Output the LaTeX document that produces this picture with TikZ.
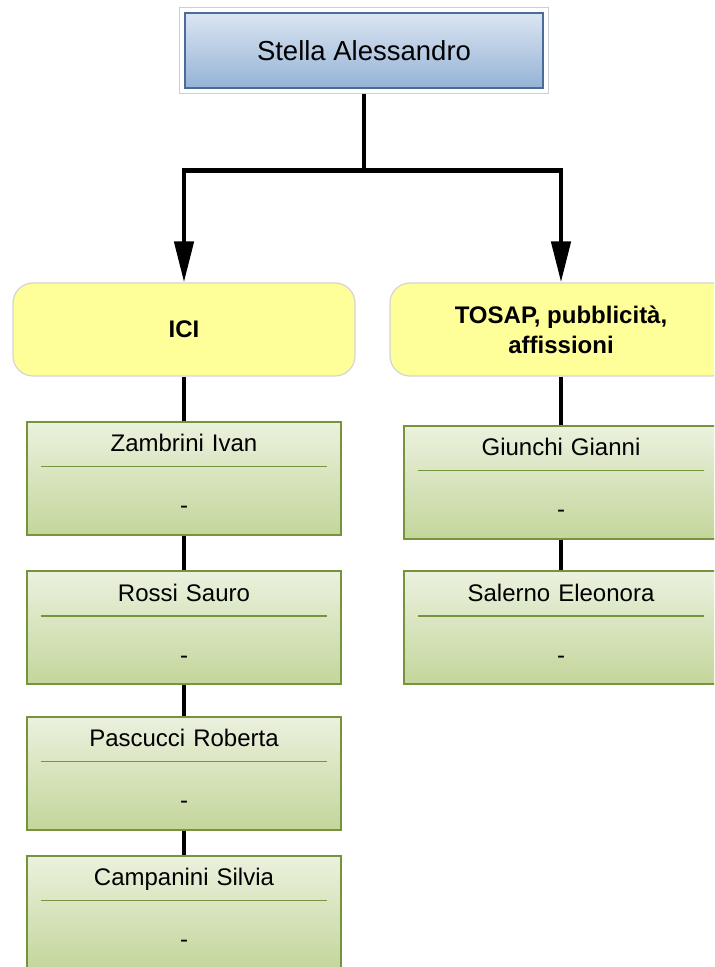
\documentclass[tikz,border=0pt]{standalone}
\usepackage{fontspec}
\setmainfont{Liberation Sans}
\usepackage{tikz}
\usetikzlibrary{arrows.meta,positioning,fit}

\definecolor{bluchiaro}{HTML}{DBE5F1}
\definecolor{blumedio}{HTML}{95B3D7}
\definecolor{blubordo}{HTML}{4A6C9B}
\definecolor{cornicegrigia}{HTML}{C8D0DA}
\definecolor{giallo}{HTML}{FFFF99}
\definecolor{giallobordo}{HTML}{D4D4D4}
\definecolor{verdechiaro}{HTML}{EBF1DE}
\definecolor{verdemedio}{HTML}{C3D69B}
\definecolor{verdebordo}{HTML}{77933C}

\tikzset{
  capo/.style={rectangle, draw=blubordo, line width=0.75pt,
    top color=bluchiaro, bottom color=blumedio,
    minimum width=179pt, minimum height=37.5pt,
    font=\fontsize{13.75}{16}\selectfont},
  cornice/.style={rectangle, draw=cornicegrigia, line width=0.5pt, inner sep=2.2pt},
  ufficio/.style={rectangle, rounded corners=10pt, draw=giallobordo, line width=0.6pt,
    fill=giallo, minimum width=171pt, minimum height=46.5pt, align=center,
    font=\bfseries\fontsize{12}{15}\selectfont},
  persona/.style={rectangle, draw=verdebordo, line width=0.85pt,
    top color=verdechiaro, bottom color=verdemedio,
    text width=150pt, inner xsep=3.5pt, inner ysep=0pt,
    minimum width=157pt, minimum height=56.5pt,
    text height=14.85pt, text depth=41.65pt, align=center,
    font=\fontsize{12}{14}\selectfont,
    path picture={\draw[verdebordo, line width=0.75pt]
      ([xshift=6.85pt,yshift=-22.3pt]path picture bounding box.north west) --
      ([xshift=-6.85pt,yshift=-22.3pt]path picture bounding box.north east);}},
  freccia/.style={line width=2.3pt, -{Triangle[length=20.5pt,width=9.5pt]}},
  linea/.style={line width=2.1pt}
}

\begin{document}
\begin{tikzpicture}[node distance=74.5pt,on grid]
            \clip (0,0) rectangle (357pt,-483.5pt);
            \node[capo]                (capo)     at (182pt,-25.25pt) {Stella Alessandro};
            \node[cornice, fit=(capo)] (cornice)  {};
            \node[ufficio]             (ici)      at (92pt,-164.75pt) {ICI};
            \node[ufficio]             (tosap)    [right=188.5pt of ici] {TOSAP, pubblicità,\\affissioni};
            \node[persona]             (zambrini) [below=of ici] {Zambrini Ivan\\[17.1pt]-};
            \node[persona]             (rossi)    [below=74.65pt of zambrini] {Rossi Sauro\\[17.1pt]-};
            \node[persona]             (pascucci) [below=72.7pt of rossi] {Pascucci Roberta\\[17.1pt]-};
            \node[persona]             (campanini)[below=69.65pt of pascucci] {Campanini Silvia\\[17.1pt]-};
            \node[persona]             (giunchi)  [below=76.5pt of tosap] {Giunchi Gianni\\[17.1pt]-};
            \node[persona]             (salerno)  [below=72.65pt of giunchi] {Salerno Eleonora\\[17.1pt]-};
            \draw[freccia] (cornice.south) -- ++(0,-38.5pt) -| (ici.north);
            \draw[freccia] (cornice.south) -- ++(0,-38.5pt) -| (tosap.north);
            \path[linea]
            (ici)      edge (zambrini)
            (zambrini) edge (rossi)
            (rossi)    edge (pascucci)
            (pascucci) edge (campanini)
            (tosap)    edge (giunchi)
            (giunchi)  edge (salerno)
            ;
        \end{tikzpicture}
\end{document}
